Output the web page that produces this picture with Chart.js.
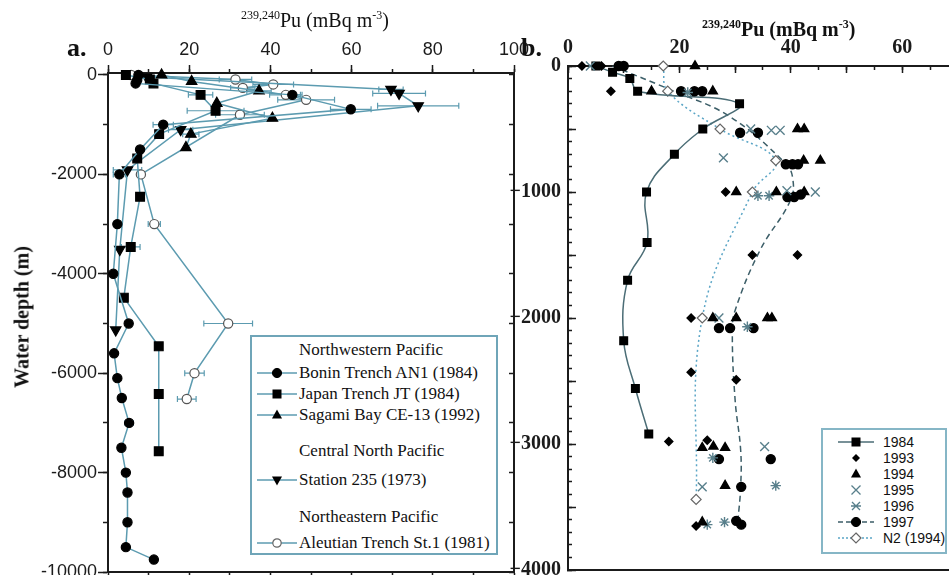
<!DOCTYPE html>
<html>
<head>
<meta charset="utf-8">
<title>Pu depth profiles</title>
<script src="https://cdn.jsdelivr.net/npm/chart.js@4.4.1/dist/chart.umd.min.js"></script>
<style>
  body { margin: 0; background: #fff; }
  #wrap { position: relative; width: 949px; height: 575px; overflow: hidden; background: #fff; }
  #wrap canvas { position: absolute; top: 0; }
  .txt { position: absolute; white-space: nowrap; color: #111; font-family: 'Liberation Serif', 'Times New Roman', serif; }
  .sup { font-size: 12px; position: relative; top: -8px; }
  .box { position: absolute; background: #fff; }
  .row { position: absolute; white-space: nowrap; color: #111; }
  .row svg { position: absolute; top: 0; }
</style>
</head>
<body>
<div id="wrap">
  <canvas id="chartA" width="530" height="575" style="left:0"></canvas>
  <canvas id="chartB" width="459" height="575" style="left:490px"></canvas>

  <div class="txt" style="left:241px;top:8px;font-size:20px;line-height:24px"><span class="sup">239,240</span>Pu (mBq m<span class="sup">-3</span>)</div>
  <div class="txt" style="left:702px;top:17px;font-size:20px;line-height:24px;font-weight:bold"><span class="sup">239,240</span>Pu (mBq m<span class="sup">-3</span>)</div>
  <div class="txt" style="left:67px;top:33px;font-size:26px;line-height:30px;font-weight:bold">a.</div>
  <div class="txt" style="left:521px;top:33px;font-size:26px;line-height:30px;font-weight:bold">b.</div>
  <div class="txt" style="left:22px;top:317px;font-size:20px;font-weight:bold;transform:translate(-50%,-50%) rotate(-90deg)">Water depth (m)</div>

  <div id="legA" class="box" style="left:250px;top:335px;width:244px;height:216px;border:2px solid #6fa5b8"></div>
  <div id="legB" class="box" style="left:821px;top:428px;width:122px;height:122px;border:2px solid #86b6c6"></div>
</div>

<script>
// ---------- panel a: values ----------
const aGroups = ['Northwestern Pacific', 'Central North Pacific', 'Northeastern Pacific'];
const aNames = ['Bonin Trench AN1 (1984)', 'Japan Trench JT (1984)', 'Sagami Bay CE-13 (1992)', 'Station 235 (1973)', 'Aleutian Trench St.1 (1981)'];

const boninPu    = [7.5, 7.2, 6.8, 45.4, 59.8, 13.6, 7.9, 2.8, 2.3, 1.3, 5.1, 1.5, 2.3, 3.4, 5.2, 3.3, 4.4, 4.8, 4.8, 4.4, 11.3];
const boninDepth = [0, -100, -170, -400, -690, -1000, -1500, -2000, -3000, -4000, -5000, -5600, -6100, -6500, -7000, -7500, -8000, -8400, -9000, -9500, -9750];
const boninErr   = [0, 0, 0, 2, 5, 2.5, 0, 1.5, 0, 0, 0, 0, 0, 0, 1, 0, 0, 0, 0, 0, 0];

const japanPu    = [4.4, 10.3, 11.2, 22.8, 26.5, 12.6, 7.2, 7.9, 5.6, 3.9, 12.5, 12.5, 12.5];
const japanDepth = [0, -90, -170, -400, -720, -1190, -1680, -2450, -3460, -4480, -5460, -6420, -7570];
const japanErr   = [0, 0, 0, 3, 7, 0, 0, 0, 2.3, 0, 0, 0, 0];

const sagamiPu    = [13.2, 20.6, 37.2, 26.8, 40.5, 20.4, 19.2];
const sagamiDepth = [0, -130, -320, -570, -870, -1190, -1460];
const sagamiErr   = [0, 0, 3, 0, 0, 2, 0];

const stationPu    = [9.5, 69.7, 71.7, 76.4, 17.9, 4.8, 2.9, 1.9];
const stationDepth = [-40, -290, -370, -620, -1100, -1910, -3510, -5130];
const stationErr   = [0, 3, 6.5, 10, 3, 3.5, 0, 0];

const aleutPu    = [5.7, 31.4, 40.7, 33.2, 43.8, 48.8, 32.5, 8.1, 11.4, 29.6, 21.3, 19.4];
const aleutDepth = [0, -90, -190, -260, -400, -500, -800, -2000, -3000, -5000, -6000, -6520];
const aleutErr   = [0, 4, 5, 3, 4, 7, 6, 0, 1.5, 6, 2.4, 2.3];

const aPuTicks    = [0, 20, 40, 60, 80, 100];
const aPuMinor    = [0, 10, 20, 30, 40, 50, 60, 70, 80, 90, 100];
const aDepthTicks = [0, -2000, -4000, -6000, -8000, -10000];
const aDepthMinor = [0, -1000, -2000, -3000, -4000, -5000, -6000, -7000, -8000, -9000, -10000];

// ---------- panel b ----------
const bNames = ['1984', '1993', '1994', '1995', '1996', '1997', 'N2 (1994)'];

const pu84    = [5, 8, 11.1, 12.5, 30.8, 24.2, 19.1, 14.1, 14.2, 10.7, 10, 12.1, 14.5];
const depth84 = [0, -50, -100, -200, -300, -500, -700, -1000, -1400, -1700, -2180, -2560, -2920];

const pu93    = [2.5, 6, 7.7, 28.3, 33.1, 41.2, 22.1, 22.1, 30.2, 18.1, 25, 23];
const depth93 = [0, 0, -200, -1000, -1500, -1500, -2000, -2430, -2490, -2980, -2970, -3650];

const pu94    = [22.8, 15, 26, 41.2, 42.4, 42.3, 45.3, 30.2, 37.4, 42.4, 26, 30.2, 35.8, 36.6, 24.1, 26.1, 28.2, 28.2, 24.1];
const depth94 = [0, -200, -200, -500, -500, -750, -750, -1000, -1000, -1000, -2000, -2000, -2000, -2000, -3030, -3020, -3030, -3330, -3620];

const pu95    = [4, 32.8, 36.5, 38.1, 27.9, 39.3, 44.4, 27.1, 35.3, 24.1];
const depth95 = [0, -500, -510, -510, -730, -990, -1000, -2000, -3020, -3340];

const pu96    = [21.5, 34.1, 36.1, 32.2, 26, 37.3, 25, 28.1];
const depth96 = [-210, -1030, -1030, -2070, -3110, -3330, -3640, -3620];

const pu97    = [9.1, 10, 20.3, 22.7, 24.1, 30.9, 34.1, 39.1, 40.3, 41.3, 39.4, 40.6, 41.8, 27.1, 29.1, 33.3, 27.1, 36.4, 31.1, 30.2, 31.1];
const depth97 = [0, 0, -200, -200, -200, -530, -530, -780, -780, -780, -1040, -1040, -1020, -2080, -2080, -2080, -3120, -3120, -3340, -3610, -3640];

// dashed 1997 profile as drawn through the points
const prof97Pu    = [8, 19, 29, 39, 40.3, 40, 34.5, 30, 29.5, 30, 31, 31, 30.5];
const prof97Depth = [0, -200, -400, -770, -880, -1060, -1460, -1940, -2120, -2650, -3050, -3340, -3610];

const puN2    = [17.1, 17.9, 27.3, 37.3, 33.1, 24.1, 23];
const depthN2 = [0, -200, -500, -750, -1000, -2000, -3440];

const bPuTicks    = [0, 20, 40, 60];
const bPuMid      = [0, 10, 20, 30, 40, 50, 60];
const bPuMinor    = [0, 5, 10, 15, 20, 25, 30, 35, 40, 45, 50, 55, 60, 65];
const bDepthTicks = [0, -1000, -2000, -3000, -4000];
const bDepthMid   = [0, -500, -1000, -1500, -2000, -2500, -3000, -3500, -4000];
const bDepthMinor = [0, -100, -200, -300, -400, -500, -600, -700, -800, -900, -1000, -1100, -1200, -1300, -1400,
  -1500, -1600, -1700, -1800, -1900, -2000, -2100, -2200, -2300, -2400, -2500, -2600, -2700, -2800, -2900,
  -3000, -3100, -3200, -3300, -3400, -3500, -3600, -3700, -3800, -3900, -4000];

// ---------- helpers ----------
const ink = '#1b1b1b';
const teal = '#5c9bb0';

function pts(xs, ys) { return xs.map((x, i) => ({ x: x, y: ys[i] })); }

function axis(position, min, max, vals, tickLen, size, weight, labels) {
  const o = {
    type: 'linear', position: position, min: min, max: max, weight: weight,
    afterBuildTicks: s => { s.ticks = vals.map(v => ({ value: v })); },
    afterFit: s => {
      // fixed axis band; no extra room for the end labels
      if (s.isHorizontal()) { s.height = size; s.paddingLeft = 0; s.paddingRight = 0; }
      else { s.width = size; s.paddingTop = 0; s.paddingBottom = 0; }
    },
    grid: { drawOnChartArea: false, drawTicks: tickLen !== 0, tickLength: tickLen, tickColor: ink, tickWidth: 1.5 },
    border: { display: true, color: ink, width: 2 },
    ticks: { display: false, autoSkip: false }
  };
  if (labels) o.ticks = Object.assign({ display: true, autoSkip: false, maxRotation: 0, color: ink }, labels);
  return o;
}

// depth labels of panel b, placed with the y scale after everything else is drawn
const depthLabels = {
  id: 'depthLabels',
  afterDraw(chart) {
    const ctx = chart.ctx, s = chart.scales.y;
    ctx.save();
    ctx.font = "bold 20px 'Liberation Serif', serif";
    ctx.fillStyle = ink;
    ctx.textAlign = 'right';
    ctx.textBaseline = 'middle';
    bDepthTicks.forEach(v => {
      const txt = v < 0 ? '\u2212' + Math.abs(v) : String(v);
      ctx.fillText(txt, chart.chartArea.left - 7, s.getPixelForValue(v));
    });
    ctx.restore();
  }
};

// horizontal error bars, drawn through the chart scales
const errorBars = {
  id: 'errorBars',
  beforeDatasetsDraw(chart) {
    const ctx = chart.ctx;
    chart.data.datasets.forEach(ds => {
      if (!ds.errX) return;
      const xs = chart.scales.x, ys = chart.scales.y;
      ctx.save();
      ctx.strokeStyle = ds.borderColor;
      ctx.lineWidth = 1.2;
      ds.data.forEach((p, j) => {
        const e = ds.errX[j];
        if (!e) return;
        const x1 = xs.getPixelForValue(p.x - e), x2 = xs.getPixelForValue(p.x + e), y = ys.getPixelForValue(p.y);
        ctx.beginPath();
        ctx.moveTo(x1, y); ctx.lineTo(x2, y);
        ctx.moveTo(x1, y - 3); ctx.lineTo(x1, y + 3);
        ctx.moveTo(x2, y - 3); ctx.lineTo(x2, y + 3);
        ctx.stroke();
      });
      ctx.restore();
    });
  }
};

function lineSet(label, xs, ys, err, style, r, fill, rot) {
  return {
    label: label, data: pts(xs, ys), errX: err, showLine: true,
    borderColor: teal, borderWidth: 1.5, tension: 0,
    pointStyle: style, pointRadius: r, pointRotation: rot || 0,
    pointBackgroundColor: fill, pointBorderColor: fill === '#fff' ? '#555' : '#000', pointBorderWidth: 1.2,
    clip: false
  };
}

const common = {
  responsive: false, animation: false, events: [],
  layout: { padding: 0, autoPadding: false },
  plugins: { legend: { display: false }, tooltip: { enabled: false } }
};

// ---------- chart a ----------
const labA = { font: { family: 'Liberation Sans', size: 18 }, callback: v => String(v) };
new Chart(document.getElementById('chartA'), {
  type: 'scatter',
  data: {
    datasets: [
      lineSet(aNames[0], boninPu, boninDepth, boninErr, 'circle', 4.6, '#000'),
      lineSet(aNames[1], japanPu, japanDepth, japanErr, 'rect', 6.2, '#000'),
      lineSet(aNames[2], sagamiPu, sagamiDepth, sagamiErr, 'triangle', 6, '#000'),
      lineSet(aNames[3], stationPu, stationDepth, stationErr, 'triangle', 6, '#000', 180),
      lineSet(aNames[4], aleutPu, aleutDepth, aleutErr, 'circle', 4.6, '#fff')
    ]
  },
  options: Object.assign({}, common, {
    scales: {
      x: axis('top', 0, 100, aPuTicks, 8, 73, 10, Object.assign({ padding: 4 }, labA)),
      xMinor: axis('top', 0, 100, aPuMinor, 4, 0, 0),
      xBottom: axis('bottom', 0, 100, aPuMinor, 3, 3, 0),
      y: axis('left', -10000, 40, aDepthTicks, 10, 108, 10, Object.assign({ padding: 1 }, labA)),
      yMinor: axis('left', -10000, 40, aDepthMinor, 5, 0, 0),
      yRight: axis('right', -10000, 40, aDepthMinor, -5, 16, 0)
    }
  }),
  plugins: [errorBars]
});

// ---------- chart b ----------
const labB = { font: { family: 'Liberation Serif', size: 20, weight: 'bold' }, callback: v => String(v) };
function markSet(label, xs, ys, style, r, color, fill) {
  return {
    label: label, data: pts(xs, ys), showLine: false,
    pointStyle: style, pointRadius: r,
    pointBackgroundColor: fill || color, pointBorderColor: color, pointBorderWidth: 1.4,
    clip: false
  };
}
const xCol = '#587f8b';
new Chart(document.getElementById('chartB'), {
  type: 'scatter',
  data: {
    datasets: [
      markSet(bNames[1], pu93, depth93, 'rectRot', 4, '#000'),
      markSet(bNames[2], pu94, depth94, 'triangle', 5.2, '#000'),
      markSet(bNames[3], pu95, depth95, 'crossRot', 6.2, xCol),
      markSet(bNames[4], pu96, depth96, 'star', 5.2, xCol),
      markSet(bNames[5], pu97, depth97, 'circle', 4.5, '#000'),
      {
        label: bNames[0], data: pts(pu84, depth84), showLine: true, tension: 0.4,
        borderColor: '#4b6d76', borderWidth: 1.5,
        pointStyle: 'rect', pointRadius: 5.3, pointBackgroundColor: '#000', pointBorderColor: '#000', clip: false
      },
      {
        label: bNames[6], data: pts(puN2, depthN2), showLine: true, tension: 0.4,
        borderColor: '#5aa5c6', borderWidth: 1.5, borderDash: [2, 3],
        pointStyle: 'rectRot', pointRadius: 5, pointBackgroundColor: '#fff', pointBorderColor: '#666', pointBorderWidth: 1.2, clip: false
      },
      {
        label: '1997 profile', data: pts(prof97Pu, prof97Depth), showLine: true, tension: 0.4,
        borderColor: '#3c5e68', borderWidth: 1.5, borderDash: [6, 4], pointRadius: 0, clip: false
      }
    ]
  },
  options: Object.assign({}, common, {
    scales: {
      // labelled top axis carries no tick marks; the inward ticks come from the zero-width axes
      x: axis('top', 0, 68.4, bPuTicks, 0, 66, 10, Object.assign({ padding: 6 }, labB)),
      xMid: axis('top', 0, 68.4, bPuMid, -7, 0, 5),
      xMinor: axis('top', 0, 68.4, bPuMinor, -4, 0, 0),
      xBottom: axis('bottom', 0, 68.4, [], 0, 5, 0),
      y: axis('left', -4000, 0, bDepthTicks, 0, 78, 10),
      yMid: axis('left', -4000, 0, bDepthMid, -8, 0, 5),
      yMinor: axis('left', -4000, 0, bDepthMinor, -4, 0, 0)
    }
  }),
  plugins: [depthLabels]
});

// ---------- legends (html) ----------
const wrap = document.getElementById('wrap');
function svgMark(shape, cx, cy, stroke) {
  const s = 'stroke="' + stroke + '" stroke-width="1.3"';
  switch (shape) {
    case 'circle': return '<circle cx="' + cx + '" cy="' + cy + '" r="4.6" fill="#000" stroke="#000"/>';
    case 'ocircle': return '<circle cx="' + cx + '" cy="' + cy + '" r="4.2" fill="#fff" stroke="#666" stroke-width="1.2"/>';
    case 'rect': return '<rect x="' + (cx - 4.5) + '" y="' + (cy - 4.5) + '" width="9" height="9" fill="#000"/>';
    case 'tri': return '<polygon points="' + cx + ',' + (cy - 5.5) + ' ' + (cx + 5) + ',' + (cy + 3.5) + ' ' + (cx - 5) + ',' + (cy + 3.5) + '" fill="#000"/>';
    case 'tridown': return '<polygon points="' + (cx - 5) + ',' + (cy - 3.5) + ' ' + (cx + 5) + ',' + (cy - 3.5) + ' ' + cx + ',' + (cy + 5.5) + '" fill="#000"/>';
    case 'diamond': return '<polygon points="' + cx + ',' + (cy - 4) + ' ' + (cx + 4) + ',' + cy + ' ' + cx + ',' + (cy + 4) + ' ' + (cx - 4) + ',' + cy + '" fill="#000"/>';
    case 'odiamond': return '<polygon points="' + cx + ',' + (cy - 5) + ' ' + (cx + 5) + ',' + cy + ' ' + cx + ',' + (cy + 5) + ' ' + (cx - 5) + ',' + cy + '" fill="#fff" stroke="#666" stroke-width="1.2"/>';
    case 'x': return '<path d="M' + (cx - 4.5) + ' ' + (cy - 4.5) + 'L' + (cx + 4.5) + ' ' + (cy + 4.5) + 'M' + (cx + 4.5) + ' ' + (cy - 4.5) + 'L' + (cx - 4.5) + ' ' + (cy + 4.5) + '" ' + s + '/>';
    case 'star': return '<path d="M' + (cx - 4) + ' ' + (cy - 4) + 'L' + (cx + 4) + ' ' + (cy + 4) + 'M' + (cx + 4) + ' ' + (cy - 4) + 'L' + (cx - 4) + ' ' + (cy + 4) + 'M' + (cx - 5) + ' ' + cy + 'L' + (cx + 5) + ' ' + cy + '" ' + s + '/>';
  }
  return '';
}
function addRow(text, font, textX, yc, h, sample) {
  const d = document.createElement('div');
  d.className = 'row';
  d.style.left = textX + 'px';
  d.style.top = (yc - h / 2) + 'px';
  d.style.height = h + 'px';
  d.style.lineHeight = h + 'px';
  d.style.font = font;
  d.textContent = text;
  wrap.appendChild(d);
  if (sample) {
    const w = sample.w;
    const svg = '<svg width="' + w + '" height="' + h + '" style="position:absolute;left:' + sample.x + 'px;top:' + (yc - h / 2) + 'px">' +
      (sample.line ? '<line x1="0" y1="' + h / 2 + '" x2="' + w + '" y2="' + h / 2 + '" stroke="' + sample.line + '" stroke-width="1.5"' +
        (sample.dash ? ' stroke-dasharray="' + sample.dash + '"' : '') + '/>' : '') +
      svgMark(sample.mark, w / 2, h / 2, sample.stroke || '#000') + '</svg>';
    wrap.insertAdjacentHTML('beforeend', svg);
  }
}

const fontA = "17px 'Liberation Serif', serif";
addRow(aGroups[0], fontA, 299, 350, 20);
addRow(aNames[0], fontA, 299, 373, 20, { x: 257, w: 40, line: teal, mark: 'circle' });
addRow(aNames[1], fontA, 299, 394, 20, { x: 257, w: 40, line: teal, mark: 'rect' });
addRow(aNames[2], fontA, 299, 415, 20, { x: 257, w: 40, line: teal, mark: 'tri' });
addRow(aGroups[1], fontA, 299, 451, 20);
addRow(aNames[3], fontA, 299, 480, 20, { x: 257, w: 40, line: teal, mark: 'tridown' });
addRow(aGroups[2], fontA, 299, 517, 20);
addRow(aNames[4], fontA, 299, 543, 20, { x: 257, w: 40, line: teal, mark: 'ocircle' });

const fontB = "14px 'Liberation Sans', sans-serif";
addRow(bNames[0], fontB, 883, 442, 16, { x: 838, w: 36, line: '#4b6d76', mark: 'rect' });
addRow(bNames[1], fontB, 883, 458, 16, { x: 838, w: 36, mark: 'diamond' });
addRow(bNames[2], fontB, 883, 474, 16, { x: 838, w: 36, mark: 'tri' });
addRow(bNames[3], fontB, 883, 490, 16, { x: 838, w: 36, mark: 'x', stroke: xCol });
addRow(bNames[4], fontB, 883, 506, 16, { x: 838, w: 36, mark: 'star', stroke: xCol });
addRow(bNames[5], fontB, 883, 522, 16, { x: 838, w: 36, line: '#3c5e68', dash: '5,3', mark: 'circle' });
addRow(bNames[6], fontB, 883, 538, 16, { x: 838, w: 36, line: '#5aa5c6', dash: '2,2', mark: 'odiamond' });
</script>
</body>
</html>
